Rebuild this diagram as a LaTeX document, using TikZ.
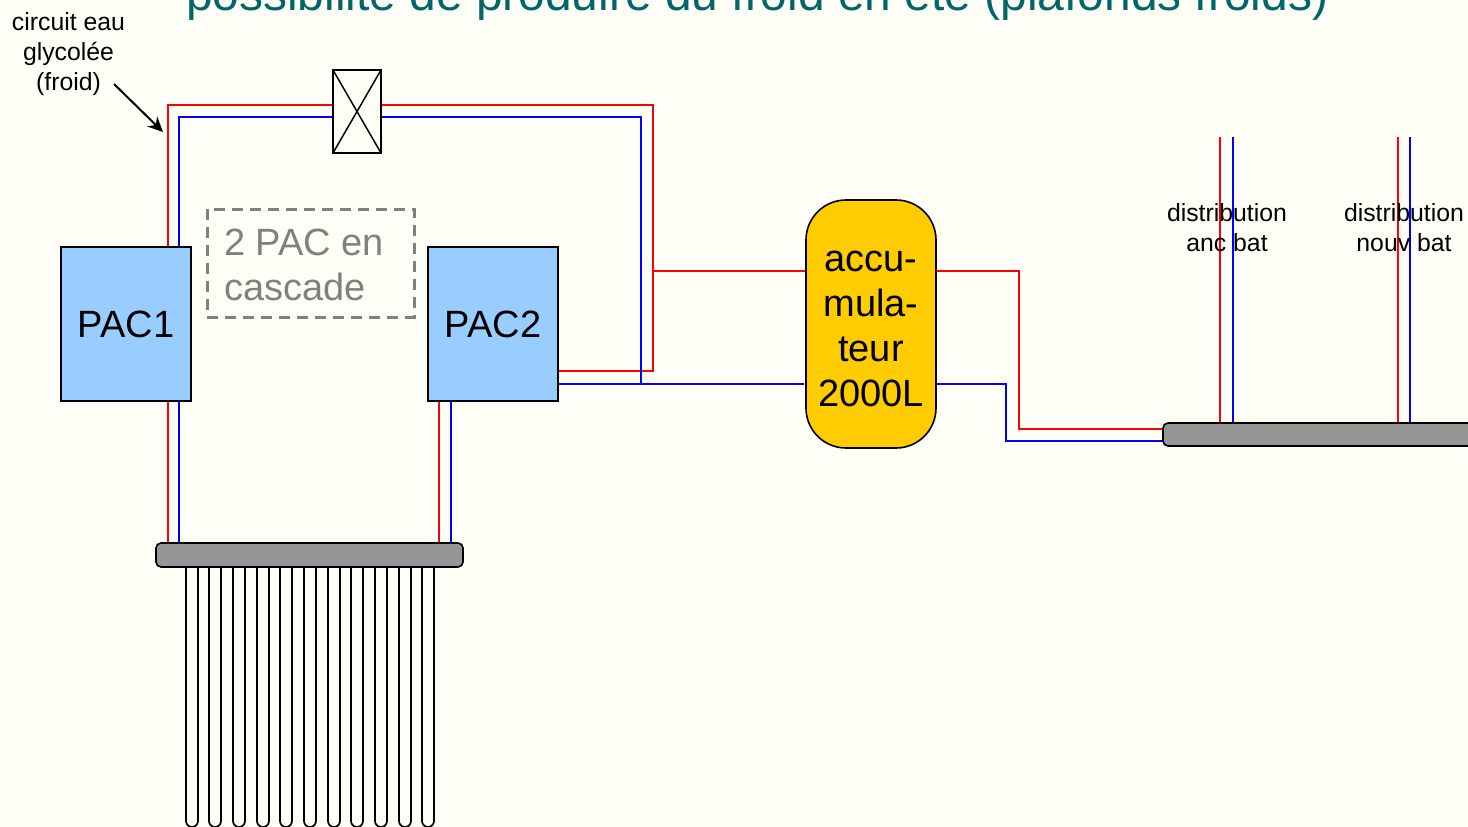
\documentclass[tikz,border=0pt]{standalone}
\usepackage{fontspec}
\setmainfont{Liberation Sans}
\usetikzlibrary{arrows.meta}
\definecolor{bgc}{HTML}{FFFFF8}
\definecolor{titlec}{HTML}{006666}
\definecolor{pacblue}{HTML}{99CCFF}
\definecolor{accu}{HTML}{FFCC00}
\definecolor{mani}{HTML}{969696}
\definecolor{dashc}{HTML}{808080}
\definecolor{hot}{HTML}{FF0000}
\definecolor{cold}{HTML}{0000FF}
\tikzset{
  x=1pt,y=-1pt,
  every node/.style={inner sep=0pt,outer sep=0pt},
  hotp/.style={draw=hot,line width=1.6pt,line join=miter},
  coldp/.style={draw=cold,line width=1.6pt,line join=miter},
  box/.style={draw=black,line width=1.6pt,fill=pacblue,anchor=north west,minimum width=130pt,minimum height=154pt,font=\fontsize{38}{46}\selectfont},
  manifold/.style={draw=black,line width=1.6pt,fill=mani,rounded corners=5pt,anchor=north west},
  small/.style={font=\fontsize{24.8}{30}\selectfont,align=center,text=black},
  tube/.style={draw=black,line width=1.7pt},
}
\begin{document}
\begin{tikzpicture}
\useasboundingbox (0,0) rectangle (1468,827);
\clip (0,0) rectangle (1468,827);
\fill[bgc] (0,0) rectangle (1468,827);
% title
\node[anchor=base west,text=titlec,font=\fontsize{47.9}{50}\selectfont] (title) at (186,10) {possibilité de produire du froid en été (plafonds froids)};
% pipes endpoints
\coordinate (p1rt) at (168,247); \coordinate (p1bt) at (179,247);
\coordinate (p1rb) at (168,401); \coordinate (p1bb) at (179,401);
\coordinate (p2rb) at (439,401); \coordinate (p2bb) at (451,401);
\coordinate (p2ro) at (558,371); \coordinate (p2bo) at (558,384);
\coordinate (vrl) at (333,105); \coordinate (vbl) at (333,117);
\coordinate (vrr) at (381,105); \coordinate (vbr) at (381,117);
\coordinate (arl) at (806,271); \coordinate (abl) at (804,384);
\coordinate (arr) at (936,271); \coordinate (abr) at (936,384);
\coordinate (mrl) at (1163,429); \coordinate (mbl) at (1163,441);
\coordinate (g1r) at (168,543); \coordinate (g1b) at (179,543);
\coordinate (g2r) at (439,543); \coordinate (g2b) at (451,543);
\coordinate (d1r) at (1220,137); \coordinate (d1b) at (1233,137);
\coordinate (d2r) at (1398,137); \coordinate (d2b) at (1410,137);
\coordinate (d1re) at (1220,423); \coordinate (d1be) at (1233,423);
\coordinate (d2re) at (1398,423); \coordinate (d2be) at (1410,423);
\coordinate (tj) at (653,271);
% pipes
\draw[hotp] (p1rt) |- (vrl);
\draw[coldp] (p1bt) |- (vbl);
\draw[hotp] (vrr) -| (653,371) -- (p2ro);
\draw[coldp] (vbr) -| (641,384);
\draw[coldp] (p2bo) -- (abl);
\draw[hotp] (tj) -- (arl);
\draw[hotp] (arr) -| (1019,429) -- (mrl);
\draw[coldp] (abr) -| (1006,441) -- (mbl);
\draw[hotp] (p1rb) -- (g1r);
\draw[coldp] (p1bb) -- (g1b);
\draw[hotp] (p2rb) -- (g2r);
\draw[coldp] (p2bb) -- (g2b);
\draw[hotp] (d1r) -- (d1re);
\draw[coldp] (d1b) -- (d1be);
\draw[hotp] (d2r) -- (d2re);
\draw[coldp] (d2b) -- (d2be);
% valve
\node[draw=black,line width=1.8pt,anchor=north west,minimum width=48pt,minimum height=83pt] (valve) at (333,70) {};
\draw[line width=1.5pt] (valve.north west) -- (valve.south east);
\draw[line width=1.5pt] (valve.north east) -- (valve.south west);
% boxes
\node[box] (pac1) at (61,247) {\raisebox{-3pt}{PAC1}};
\node[box] (pac2) at (428,247) {\raisebox{-3pt}{PAC2}};
\node[draw=black,line width=1.6pt,fill=accu,rounded corners=40pt,anchor=north west,minimum width=130pt,minimum height=248pt] (acc) at (806,200) {};
\node[align=center,font=\fontsize{38}{45}\selectfont] (acct) at (871,329) {accu-\\mula-\\teur\\2000L};
\node[draw=dashc,line width=3pt,dash pattern=on 11pt off 7pt,anchor=north west,minimum width=207pt,minimum height=108pt] (note) at (207,209) {};
\node[anchor=west,align=left,text=dashc,font=\fontsize{38}{45}\selectfont] (notet) at (224,265) {2 PAC en\\cascade};
\node[manifold,minimum width=307pt,minimum height=24pt] (m1) at (156,543) {};
\node[manifold,minimum width=330pt,minimum height=23pt] (m2) at (1163,423) {};
% ground loops
\foreach \i in {0,...,10}{
  \pgfmathsetmacro{\tx}{round(185.7+23.66*\i)}
  \draw[tube] (\tx,567) -- (\tx,821) arc[start angle=180,end angle=0,radius=6pt,y radius=-6pt] -- ({\tx+12},567);
}
% labels
\node[small] (lab1) at (68.5,54) {circuit eau\\glycolée\\(froid)};
\node[small] (lab2) at (1227,228) {distribution\\anc bat};
\node[small] (lab3) at (1404,228) {distribution\\nouv bat};
\coordinate (arrs) at (114,84);
\coordinate (arre) at (163,132);
\draw[line width=2pt,-{Stealth[length=15pt,width=14pt]}] (arrs) -- (arre);
\end{tikzpicture}
\end{document}
